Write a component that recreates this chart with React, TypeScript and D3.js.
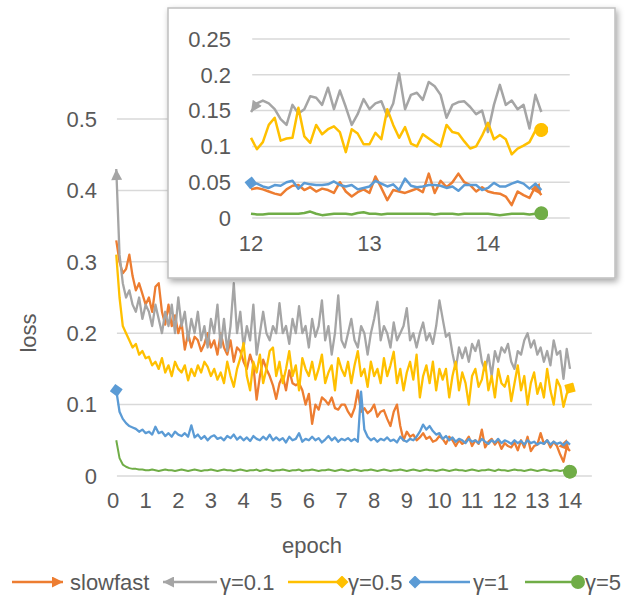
import React, { useEffect, useRef } from 'react';
import * as d3 from 'd3';

// series in Excel drawing order
const SERIES_NAMES = ['slowfast', 'γ=0.1', 'γ=0.5', 'γ=1', 'γ=5'];
const COLORS = ['#ED7D31', '#A5A5A5', '#FFC000', '#5B9BD5', '#70AD47'];

// main chart: one value every 0.1 epoch, from 0.1 to 14.0
const MAIN_START = 0.1;
const MAIN_STEP = 0.1;
const MAIN_X_TICKS = [0, 1, 2, 3, 4, 5, 6, 7, 8, 9, 10, 11, 12, 13, 14];
const MAIN_Y_TICKS = [0, 0.1, 0.2, 0.3, 0.4, 0.5];

const SLOWFAST = [
  .33, .30, .284, .29, .31, .28, .26, .27, .255, .24,
  .25, .23, .265, .27, .23, .212, .24, .21, .225, .20,
  .215, .177, .20, .18, .195, .19, .175, .185, .20, .18,
  .19, .17, .20, .18, .17, .19, .16, .18, .175, .16,
  .15, .17, .155, .107, .14, .163, .15, .14, .127, .108,
  .13, .14, .12, .148, .13, .127, .13, .12, .10, .115,
  .073, .10, .093, .11, .106, .10, .11, .095, .093, .10,
  .10, .09, .083, .095, .12, .09, .095, .088, .092, .10,
  .083, .09, .092, .08, .07, .09, .10, .07, .05, .062,
  .055, .058, .05, .054, .06, .052, .055, .048, .05, .056,
  .052, .045, .055, .05, .042, .05, .045, .048, .055, .042,
  .05, .045, .065, .04, .048, .052, .044, .05, .038, .046,
  .042, .04, .047, .036, .05, .04, .055, .035, .042, .044,
  .06, .045, .05, .04, .048, .042, .03, .02, .04, .035,
];
const GAMMA_01 = [
  .43, .31, .27, .25, .26, .24, .23, .25, .22, .24,
  .23, .21, .24, .22, .20, .23, .21, .24, .20, .25,
  .21, .23, .19, .22, .20, .23, .19, .21, .18, .22,
  .20, .24, .18, .22, .175, .21, .27, .20, .23, .18,
  .21, .19, .24, .17, .20, .23, .20, .19, .21, .20,
  .242, .20, .21, .185, .22, .20, .238, .20, .21, .18,
  .22, .195, .21, .246, .19, .21, .17, .20, .253, .19,
  .18, .20, .22, .19, .18, .21, .20, .17, .20, .22,
  .244, .19, .21, .20, .18, .215, .19, .20, .21, .235,
  .19, .20, .18, .20, .215, .19, .20, .185, .21, .246,
  .22, .195, .20, .172, .15, .18, .165, .18, .16, .185,
  .175, .19, .16, .148, .17, .14, .175, .16, .18, .173,
  .185, .16, .15, .175, .17, .19, .20, .18, .19, .17,
  .18, .16, .175, .155, .19, .17, .175, .136, .178, .15,
];
const GAMMA_05 = [
  .31, .25, .21, .20, .19, .18, .185, .17, .175, .165,
  .167, .155, .16, .15, .165, .145, .155, .14, .16, .15,
  .145, .155, .134, .15, .14, .155, .145, .16, .153, .14,
  .15, .135, .145, .13, .16, .14, .125, .15, .165, .186,
  .14, .12, .16, .145, .17, .13, .15, .175, .18, .14,
  .16, .13, .15, .175, .14, .155, .12, .165, .15, .14,
  .16, .135, .15, .17, .13, .145, .155, .12, .165, .15,
  .14, .16, .13, .155, .175, .14, .15, .125, .16, .14,
  .15, .13, .165, .14, .155, .174, .13, .15, .12, .145,
  .16, .135, .17, .11, .14, .155, .13, .16, .12, .15,
  .135, .15, .11, .14, .16, .12, .145, .13, .10, .14,
  .15, .125, .135, .16, .12, .14, .11, .15, .13, .125,
  .14, .105, .13, .155, .12, .14, .10, .13, .145, .115,
  .13, .11, .15, .12, .10, .135, .125, .097, .115, .123,
];
const GAMMA_1 = [
  .12, .09, .08, .074, .07, .068, .066, .062, .065, .06,
  .062, .058, .069, .06, .062, .056, .06, .055, .062, .058,
  .056, .06, .055, .071, .054, .058, .052, .056, .05, .055,
  .057, .052, .054, .05, .056, .053, .058, .051, .055, .05,
  .054, .049, .056, .052, .05, .055, .051, .058, .05, .054,
  .05, .053, .047, .055, .05, .052, .06, .048, .052, .05,
  .055, .05, .053, .047, .051, .056, .05, .054, .048, .052,
  .05, .053, .049, .052, .048, .118, .065, .055, .05, .053,
  .048, .052, .05, .054, .049, .051, .047, .055, .05, .048,
  .052, .05, .055, .062, .072, .065, .07, .063, .058, .06,
  .052, .056, .05, .054, .048, .052, .05, .046, .052, .048,
  .05, .046, .052, .048, .045, .05, .047, .052, .046, .05,
  .048, .045, .05, .046, .049, .044, .05, .046, .048, .044,
  .047, .045, .05, .044, .048, .045, .047, .043, .048, .044,
];
const GAMMA_5 = [
  .05, .025, .016, .013, .011, .01, .01, .009, .009, .008,
  .008, .009, .008, .007, .008, .009, .008, .008, .007, .008,
  .009, .008, .007, .008, .009, .008, .007, .008, .008, .009,
  .008, .007, .008, .009, .008, .008, .007, .008, .009, .008,
  .007, .008, .008, .009, .007, .008, .009, .008, .007, .008,
  .008, .009, .008, .007, .008, .008, .009, .007, .008, .008,
  .009, .008, .007, .008, .008, .009, .008, .007, .008, .009,
  .008, .007, .008, .009, .008, .007, .008, .008, .009, .008,
  .007, .008, .009, .008, .007, .008, .008, .009, .008, .007,
  .008, .009, .008, .007, .008, .009, .008, .008, .007, .008,
  .009, .008, .007, .008, .009, .008, .008, .007, .008, .009,
  .008, .007, .008, .008, .009, .008, .007, .009, .008, .008,
  .007, .008, .009, .008, .008, .007, .008, .009, .008, .007,
  .008, .009, .008, .007, .008, .008, .007, .008, .007, .006,
];

// inset: zoom on epochs 12 .. 14.45, one value every 0.05 epoch
const INSET_START = 12;
const INSET_STEP = 0.05;
const INSET_X_TICKS = [12, 13, 14];
const INSET_Y_TICKS = [0, 0.05, 0.1, 0.15, 0.2, 0.25];

const INSET_SLOWFAST = [
  .04, .042, .04, .037, .034, .032, .04, .045, .046, .039,
  .043, .037, .041, .039, .035, .05, .037, .03, .036, .04,
  .035, .058, .042, .025, .039, .037, .035, .038, .041, .036,
  .062, .035, .052, .043, .05, .062, .05, .046, .037, .043,
  .037, .035, .034, .03, .018, .037, .032, .028, .044, .032,
];
const INSET_GAMMA_01 = [
  .148, .16, .164, .16, .152, .138, .13, .158, .146, .152,
  .17, .168, .158, .182, .152, .178, .155, .13, .145, .166,
  .152, .16, .163, .142, .16, .202, .152, .172, .175, .165,
  .19, .184, .172, .14, .158, .162, .163, .155, .145, .15,
  .12, .158, .186, .158, .164, .152, .158, .125, .172, .148,
];
const INSET_GAMMA_05 = [
  .112, .096, .106, .13, .14, .108, .111, .112, .154, .114,
  .105, .13, .117, .124, .128, .12, .092, .124, .118, .103,
  .103, .119, .11, .152, .13, .112, .127, .104, .10, .117,
  .111, .105, .10, .13, .12, .118, .107, .097, .10, .115,
  .133, .11, .116, .11, .089, .097, .101, .106, .122, .123,
];
const INSET_GAMMA_1 = [
  .049, .048, .044, .042, .046, .045, .05, .052, .041, .049,
  .047, .046, .046, .047, .051, .046, .044, .046, .04, .042,
  .044, .052, .048, .044, .047, .039, .055, .045, .043, .044,
  .046, .046, .045, .042, .044, .038, .046, .046, .046, .039,
  .042, .049, .044, .044, .048, .051, .048, .041, .048, .039,
];
const INSET_GAMMA_5 = [
  .006, .005, .005, .006, .006, .006, .006, .006, .006, .007,
  .009, .006, .004, .005, .006, .006, .006, .005, .007, .008,
  .006, .006, .005, .006, .006, .006, .006, .006, .006, .006,
  .006, .005, .006, .006, .006, .005, .006, .006, .006, .006,
  .006, .005, .004, .005, .006, .006, .006, .005, .006, .0065,
];

const MAIN_SERIES = [SLOWFAST, GAMMA_01, GAMMA_05, GAMMA_1, GAMMA_5];
const INSET_SERIES = [INSET_SLOWFAST, INSET_GAMMA_01, INSET_GAMMA_05, INSET_GAMMA_1, INSET_GAMMA_5];

// line-end decorations, as Excel's begin/end arrow types
const MAIN_MARKS = [
  { start: null, end: 'arrow' },
  { start: 'arrow', end: null },
  { start: null, end: 'diamond' },
  { start: 'diamond', end: null },
  { start: null, end: 'oval' },
];
const INSET_MARKS = [
  { start: null, end: 'arrow' },
  { start: 'arrow', end: null },
  { start: null, end: 'oval' },
  { start: 'diamond', end: null },
  { start: null, end: 'oval' },
];

const TEXT = '#595959';
const GRID = '#D9D9D9';
const FONT = '"Liberation Sans", Arial, sans-serif';

const App: React.FC = () => {
  const svgRef = useRef<SVGSVGElement>(null);

  useEffect(() => {
    if (!svgRef.current) return;
    const svg = d3.select(svgRef.current);
    svg.selectAll('*').remove();

    const defs = svg.append('defs');
    defs.append('filter')
      .attr('id', 'shadow')
      .attr('x', '-5%').attr('y', '-5%').attr('width', '115%').attr('height', '120%')
      .append('feDropShadow')
      .attr('dx', 2).attr('dy', 3).attr('stdDeviation', 3)
      .attr('flood-color', '#000').attr('flood-opacity', 0.35);

    const markerId = (kind: string, i: number, pos: string) => `m-${kind}-${i}-${pos}`;
    COLORS.forEach((c, i) => {
      ['start', 'end'].forEach(pos => {
        const orient = pos === 'start' ? 'auto-start-reverse' : 'auto';
        defs.append('marker')
          .attr('id', markerId('arrow', i, pos))
          .attr('viewBox', '0 0 10 10')
          .attr('refX', 10).attr('refY', 5)
          .attr('markerUnits', 'userSpaceOnUse')
          .attr('markerWidth', 14).attr('markerHeight', 11)
          .attr('orient', orient)
          .append('path').attr('d', 'M0,0L10,5L0,10Z').attr('fill', c);
        defs.append('marker')
          .attr('id', markerId('diamond', i, pos))
          .attr('viewBox', '0 0 10 10')
          .attr('refX', 5).attr('refY', 5)
          .attr('markerUnits', 'userSpaceOnUse')
          .attr('markerWidth', 13).attr('markerHeight', 13)
          .attr('orient', orient)
          .append('path').attr('d', 'M0,5L5,0L10,5L5,10Z').attr('fill', c);
        defs.append('marker')
          .attr('id', markerId('oval', i, pos))
          .attr('viewBox', '0 0 10 10')
          .attr('refX', 5).attr('refY', 5)
          .attr('markerUnits', 'userSpaceOnUse')
          .attr('markerWidth', 14).attr('markerHeight', 14)
          .attr('orient', orient)
          .append('circle').attr('cx', 5).attr('cy', 5).attr('r', 5).attr('fill', c);
      });
    });

    // ---------- main chart ----------
    const x = d3.scaleLinear().domain([0, 14]).range([113, 570]);
    const y = d3.scaleLinear().domain([0, 0.5]).range([476, 119]);
    const main = svg.append('g');

    main.append('g').selectAll('line')
      .data(MAIN_Y_TICKS)
      .enter().append('line')
      .attr('x1', x(0.12)).attr('x2', x(14.67))
      .attr('y1', d => y(d)).attr('y2', d => y(d))
      .attr('stroke', GRID).attr('stroke-width', 1.5);

    main.append('g').selectAll('text')
      .data(MAIN_Y_TICKS)
      .enter().append('text')
      .attr('x', 97).attr('y', d => y(d))
      .attr('dy', '0.35em')
      .attr('text-anchor', 'end')
      .attr('fill', TEXT).style('font-size', '22px')
      .text(d => d3.format('~g')(d));

    main.append('g').selectAll('text')
      .data(MAIN_X_TICKS)
      .enter().append('text')
      .attr('x', d => x(d)).attr('y', 508)
      .attr('text-anchor', 'middle')
      .attr('fill', TEXT).style('font-size', '22px')
      .text(d => String(d));

    const mainLine = d3.line<number>()
      .x((_, i) => x(MAIN_START + MAIN_STEP * i))
      .y(d => y(d));

    MAIN_SERIES.forEach((vals, i) => {
      const m = MAIN_MARKS[i];
      const p = main.append('path')
        .attr('d', mainLine(vals))
        .attr('fill', 'none')
        .attr('stroke', COLORS[i])
        .attr('stroke-width', i === 4 ? 2 : 2.3)
        .attr('stroke-linejoin', 'round');
      if (m.start) p.attr('marker-start', `url(#${markerId(m.start, i, 'start')})`);
      if (m.end) p.attr('marker-end', `url(#${markerId(m.end, i, 'end')})`);
    });

    main.append('text')
      .attr('transform', 'translate(36,333) rotate(-90)')
      .attr('text-anchor', 'middle')
      .attr('fill', TEXT).style('font-size', '22px')
      .text('loss');

    main.append('text')
      .attr('x', 312).attr('y', 553)
      .attr('text-anchor', 'middle')
      .attr('fill', TEXT).style('font-size', '22px')
      .text('epoch');

    // ---------- inset ----------
    const xi = d3.scaleLinear().domain([12, 14]).range([251, 488]);
    const yi = d3.scaleLinear().domain([0, 0.25]).range([218, 39]);
    const inset = svg.append('g');

    inset.append('rect')
      .attr('x', 168).attr('y', 8).attr('width', 447).attr('height', 270)
      .attr('fill', '#fff')
      .attr('stroke', '#BFBFBF').attr('stroke-width', 1.5)
      .attr('filter', 'url(#shadow)');

    inset.append('g').selectAll('line')
      .data(INSET_Y_TICKS)
      .enter().append('line')
      .attr('x1', xi(12.01)).attr('x2', xi(14.69))
      .attr('y1', d => yi(d)).attr('y2', d => yi(d))
      .attr('stroke', GRID).attr('stroke-width', 1.5);

    inset.append('g').selectAll('text')
      .data(INSET_Y_TICKS)
      .enter().append('text')
      .attr('x', 231).attr('y', d => yi(d))
      .attr('dy', '0.35em')
      .attr('text-anchor', 'end')
      .attr('fill', TEXT).style('font-size', '22px')
      .text(d => d3.format('~g')(d));

    inset.append('g').selectAll('text')
      .data(INSET_X_TICKS)
      .enter().append('text')
      .attr('x', d => xi(d)).attr('y', 251)
      .attr('text-anchor', 'middle')
      .attr('fill', TEXT).style('font-size', '22px')
      .text(d => String(d));

    const insetLine = d3.line<number>()
      .x((_, i) => xi(INSET_START + INSET_STEP * i))
      .y(d => yi(d));

    INSET_SERIES.forEach((vals, i) => {
      const m = INSET_MARKS[i];
      const p = inset.append('path')
        .attr('d', insetLine(vals))
        .attr('fill', 'none')
        .attr('stroke', COLORS[i])
        .attr('stroke-width', 2.5)
        .attr('stroke-linejoin', 'round');
      if (m.start) p.attr('marker-start', `url(#${markerId(m.start, i, 'start')})`);
      if (m.end) p.attr('marker-end', `url(#${markerId(m.end, i, 'end')})`);
    });

    // ---------- legend ----------
    const legendY = 582;
    const legendItems = [
      { x1: 12, x2: 63, tx: 70 },
      { x1: 163, x2: 217, tx: 220 },
      { x1: 288, x2: 342, tx: 348 },
      { x1: 415, x2: 470, tx: 473 },
      { x1: 525, x2: 578, tx: 585 },
    ];
    const legend = svg.append('g');
    legendItems.forEach((it, i) => {
      const m = MAIN_MARKS[i];
      const p = legend.append('path')
        .attr('d', `M${it.x1},${legendY}L${it.x2},${legendY}`)
        .attr('stroke', COLORS[i])
        .attr('stroke-width', 2.5);
      if (m.start) p.attr('marker-start', `url(#${markerId(m.start, i, 'start')})`);
      if (m.end) p.attr('marker-end', `url(#${markerId(m.end, i, 'end')})`);
      legend.append('text')
        .attr('x', it.tx).attr('y', 590)
        .attr('fill', TEXT).style('font-size', '22px')
        .text(SERIES_NAMES[i]);
    });
  }, []);

  return (
    <div style={{ position: 'absolute', left: 0, top: 0 }}>
      <svg ref={svgRef} width={641} height={602} style={{ display: 'block', fontFamily: FONT, background: '#fff' }} />
    </div>
  );
};

export default App;
